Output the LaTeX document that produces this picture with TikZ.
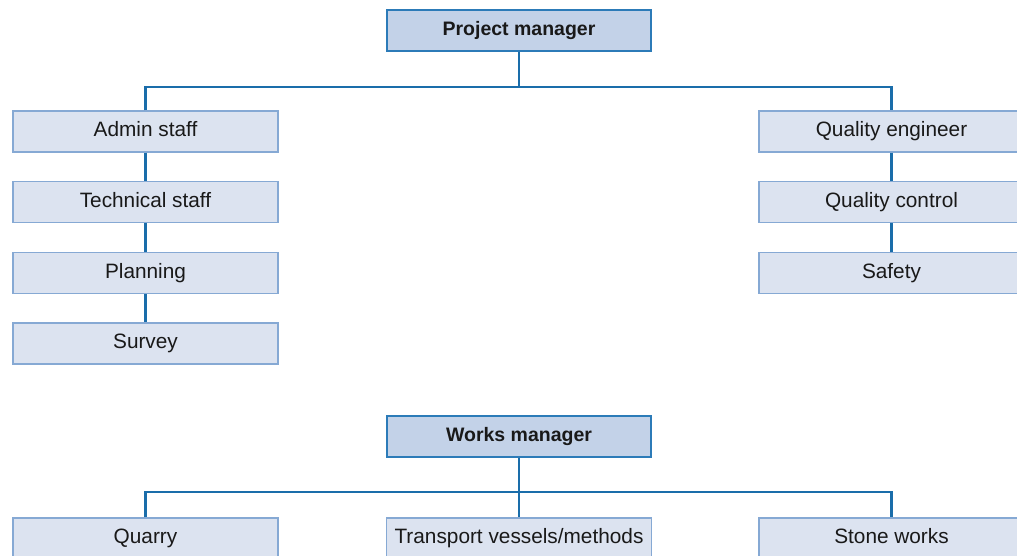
\documentclass[tikz,border=0pt]{standalone}
\usepackage{fontspec}
\setmainfont{Liberation Sans}
\definecolor{linkblue}{HTML}{1A6DAA}
\definecolor{boxfill}{HTML}{DCE3F0}
\definecolor{boxedge}{HTML}{86A9D4}
\definecolor{mgrfill}{HTML}{C3D2E8}
\definecolor{mgredge}{HTML}{2C7BB8}
\begin{document}
\begin{tikzpicture}[x=1pt,y=-1pt,
  unitbox/.style={draw=boxedge,fill=boxfill,line width=1.2pt,minimum width=265pt,minimum height=41pt,inner sep=0pt,
    text height=14pt,text depth=4pt,
    font=\fontsize{20.8}{23}\selectfont,text=black!90},
  mgrbox/.style={draw=mgredge,fill=mgrfill,line width=1.5pt,minimum width=264pt,minimum height=41pt,inner sep=0pt,
    text height=14pt,text depth=4pt,
    font=\fontsize{19.5}{22}\selectfont\bfseries,text=black!90},
  link/.style={draw=linkblue,line width=2.6pt}]
\clip (0,0) rectangle (1017,555);
\useasboundingbox (0,0) rectangle (1017,555);
% top group
\node[mgrbox] (pm) at (519,30.5) {Project manager};
\node[unitbox] (admin) at (145.5,131.5) {Admin staff};
\node[unitbox] (tech) at (145.5,202) {Technical staff};
\node[unitbox] (plan) at (145.5,273) {Planning};
\node[unitbox] (survey) at (145.5,343.5) {Survey};
\node[unitbox] (qe) at (891.5,131.5) {Quality engineer};
\node[unitbox] (qc) at (891.5,202) {Quality control};
\node[unitbox] (safety) at (891.5,273) {Safety};
\coordinate (j1) at (519,87);
\draw[link] (pm.south) -- (j1);
\draw[link] (admin.north) |- (j1) -| (qe.north);
\draw[link] (admin) -- (tech);
\draw[link] (tech) -- (plan);
\draw[link] (plan) -- (survey);
\draw[link] (qe) -- (qc);
\draw[link] (qc) -- (safety);
% bottom group
\node[mgrbox] (wm) at (519,436.5) {Works manager};
\node[unitbox] (quarry) at (145.5,538.5) {Quarry};
\node[unitbox] (trans) at (519,538.5) {Transport vessels/methods};
\node[unitbox] (stone) at (891.5,538.5) {Stone works};
\coordinate (j2) at (519,492);
\draw[link] (wm.south) -- (trans.north);
\draw[link] (quarry.north) |- (j2) -| (stone.north);
\end{tikzpicture}
\end{document}
